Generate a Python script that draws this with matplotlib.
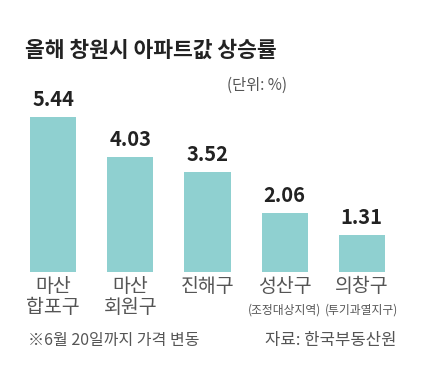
import matplotlib
matplotlib.use("Agg")
import matplotlib.pyplot as plt

plt.rcParams['font.family'] = ['Noto Sans CJK KR', 'DejaVu Sans']

categories = ["마산\n합포구", "마산\n회원구", "진해구", "성산구", "의창구"]
sub_labels = ["", "", "", "(조정대상지역)", "(투기과열지구)"]
values = [5.44, 4.03, 3.52, 2.06, 1.31]
value_labels = ["5.44", "4.03", "3.52", "2.06", "1.31"]

W, H = 431, 389
fig = plt.figure(figsize=(W/100, H/100), dpi=100)
fig.patch.set_facecolor('white')

ax_left, ax_right = 30, 385
ax_bottom_px, ax_top_px = 272, 101
ax = fig.add_axes([ax_left/W, 1-ax_bottom_px/H, (ax_right-ax_left)/W, (ax_bottom_px-ax_top_px)/H])
x = range(len(values))
ax.bar(x, values, width=0.6, color='#8fd0d0')
ax.set_xlim(-0.3, 4.3)
ax.set_ylim(0, 6)
ax.axis('off')

for i, (v, lab) in enumerate(zip(values, value_labels)):
    ax.annotate(lab, (i, v), xytext=(0, 5), textcoords='offset points',
                ha='center', va='bottom', fontsize=14.5, fontweight='semibold', color='#222222')

for i, (c, s) in enumerate(zip(categories, sub_labels)):
    ax.annotate(c, (i, 0), xytext=(0, -3), textcoords='offset points',
                ha='center', va='top', fontsize=14, color='#555555', linespacing=1.0)
    if s:
        ax.annotate(s, (i, 0), xytext=(0, -23), textcoords='offset points',
                    ha='center', va='top', fontsize=8.5, color='#555555')

fig.text(25/W, 1-50/H, "올해 창원시 아파트값 상승률", fontsize=15.5, fontweight='bold',
         color='#222222', ha='left', va='center')
fig.text(287/W, 1-85/H, "(단위: %)", fontsize=11, color='#555555', ha='right', va='center')
fig.text(28/W, 1-340/H, "※6월 20일까지 가격 변동", fontsize=11.5, color='#555555', ha='left', va='center')
fig.text(397/W, 1-340/H, "자료: 한국부동산원", fontsize=12, color='#555555', ha='right', va='center')

fig.savefig("out.png", dpi=100)
